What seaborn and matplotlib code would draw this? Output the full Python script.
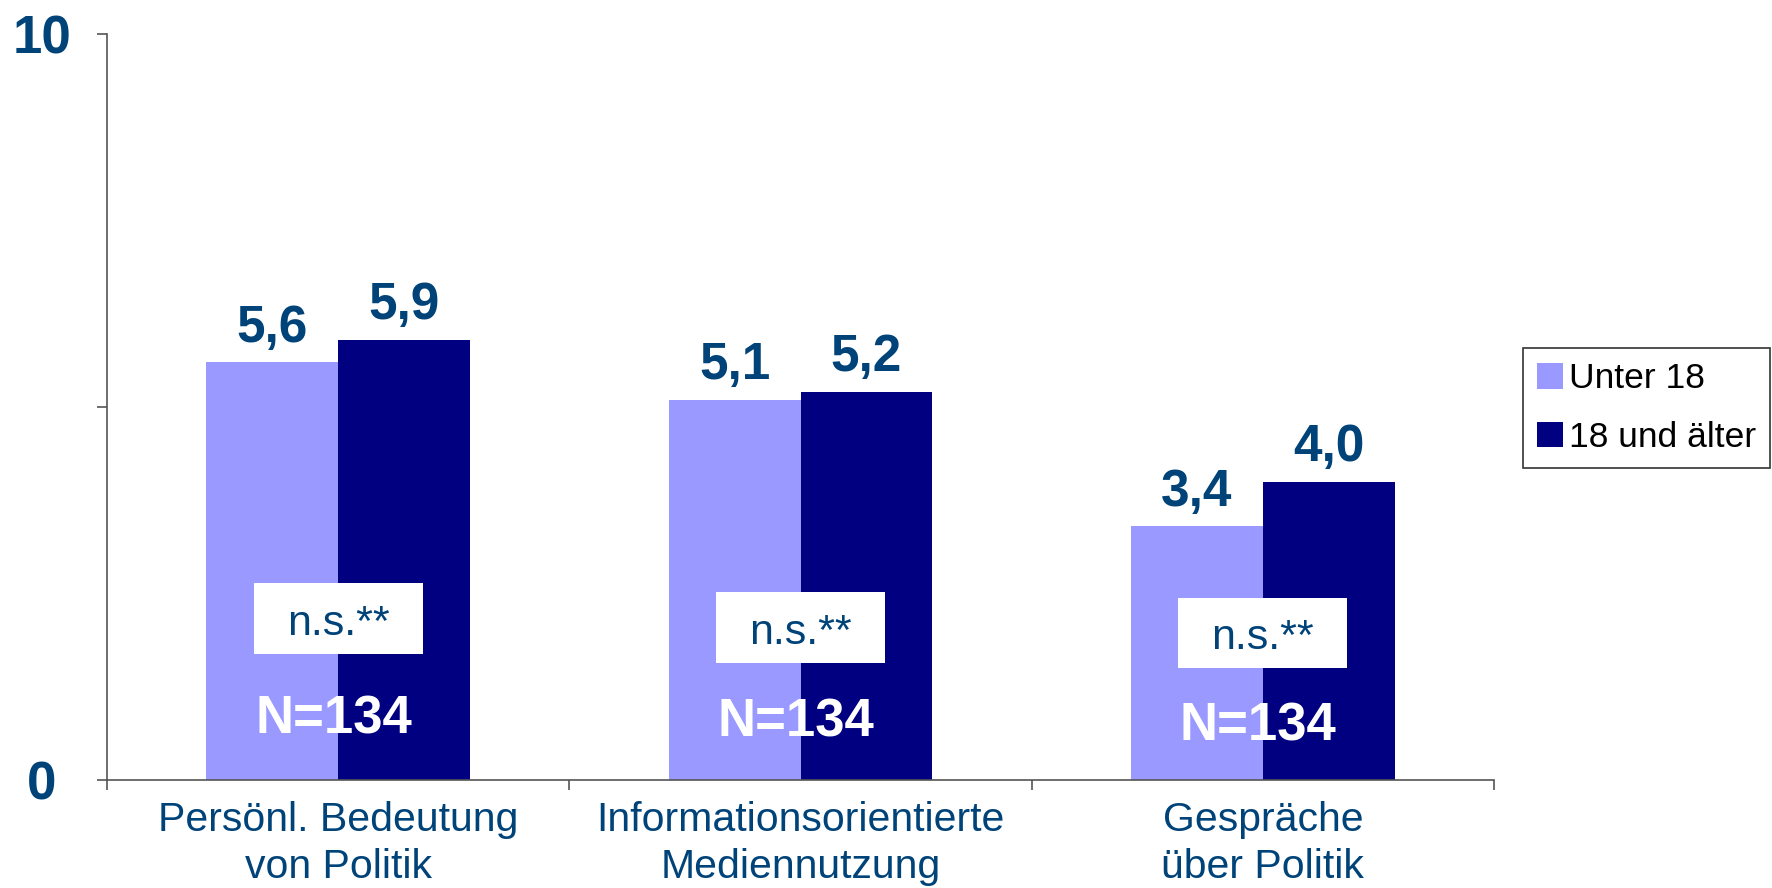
import pandas as pd
import matplotlib.pyplot as plt
import seaborn as sns
from matplotlib.patches import Rectangle

# Daten
kategorien = ["Persönl. Bedeutung\nvon Politik",
              "Informationsorientierte\nMediennutzung",
              "Gespräche\nüber Politik"]
gruppen = ["Unter 18", "18 und älter"]
unter_18 = [5.6, 5.1, 3.4]
ab_18 = [5.9, 5.2, 4.0]
signifikanz = ["n.s.**", "n.s.**", "n.s.**"]
fallzahl = ["N=134", "N=134", "N=134"]
y_ticks = [0, 5, 10]
y_tick_labels = ["0", "", "10"]

sns.set_style("ticks")
plt.rcParams['font.family'] = ['Liberation Sans', 'DejaVu Sans']

TEXT_BLUE = "#004379"
AXIS_GREY = "#555555"
palette = ["#9999FF", "#000080"]

# Position der Hinweisboxen (Datenkoordinaten)
ns_y = [2.16, 2.04, 1.97]
n_y = [0.81, 0.77, 0.72]

df = pd.DataFrame({
    "kategorie": kategorien * 2,
    "gruppe": [gruppen[0]] * len(kategorien) + [gruppen[1]] * len(kategorien),
    "wert": unter_18 + ab_18,
})

fig = plt.figure(figsize=(17.72, 8.88), dpi=100)
ax = fig.add_axes([0.0604, 0.1216, 0.7827, 0.8401])

sns.barplot(data=df, x="kategorie", y="wert", hue="gruppe", palette=palette,
            width=0.57, saturation=1, linewidth=0, ax=ax)

# Werte über den Balken
for cont, werte in zip(ax.containers, [unter_18, ab_18]):
    ax.bar_label(cont, labels=[f"{v:.1f}".replace(".", ",") for v in werte],
                 padding=7, fontsize=37, fontweight='bold', color=TEXT_BLUE)

# Hinweisboxen n.s.** und N=134
for i in range(len(kategorien)):
    ax.add_patch(Rectangle((i - 0.183, ns_y[i] - 0.475), 0.366, 0.95,
                           facecolor='white', edgecolor='none', zorder=3))
    ax.text(i, ns_y[i] - 0.07, signifikanz[i], ha='center', va='center',
            fontsize=31, color=TEXT_BLUE, zorder=4)
    ax.text(i - 0.01, n_y[i], fallzahl[i], ha='center', va='center',
            fontsize=38, fontweight='bold', color='white', zorder=4)

ax.set_xlim(-0.5, len(kategorien) - 0.5)
ax.set_ylim(0, 10)
ax.set_yticks(y_ticks, y_tick_labels)
ax.set_xticks(range(len(kategorien)), kategorien)
ax.set_xticks([i - 0.5 for i in range(len(kategorien) + 1)], minor=True)
ax.set_xlabel("")
ax.set_ylabel("")

ax.tick_params(axis='x', which='major', length=0, pad=15,
               labelsize=29.5, labelcolor=TEXT_BLUE)
ax.tick_params(axis='x', which='minor', length=7, width=1.2,
               color=AXIS_GREY, direction='out')
ax.tick_params(axis='y', length=7, width=1.2, color=AXIS_GREY,
               direction='out', pad=40, labelsize=38, labelcolor=TEXT_BLUE)
for lbl in ax.get_xticklabels():
    lbl.set_linespacing(1.32)
for lbl in ax.get_yticklabels():
    lbl.set_fontweight('bold')
    lbl.set_ha('center')

sns.despine(ax=ax)
for s in ['left', 'bottom']:
    ax.spines[s].set_color(AXIS_GREY)
    ax.spines[s].set_linewidth(1.2)

leg = ax.legend(title=None, loc='center left', bbox_to_anchor=(0.8595, 0.5405),
                bbox_transform=fig.transFigure, fontsize=25.5, frameon=True,
                fancybox=False, edgecolor='#333333', framealpha=1,
                labelcolor='black',
                handlelength=0.72, handleheight=0.72, handletextpad=0.17,
                labelspacing=0.71, borderpad=0.4, borderaxespad=0)
leg.get_frame().set_linewidth(1.2)

fig.savefig("out.png", dpi=100)
plt.close(fig)
